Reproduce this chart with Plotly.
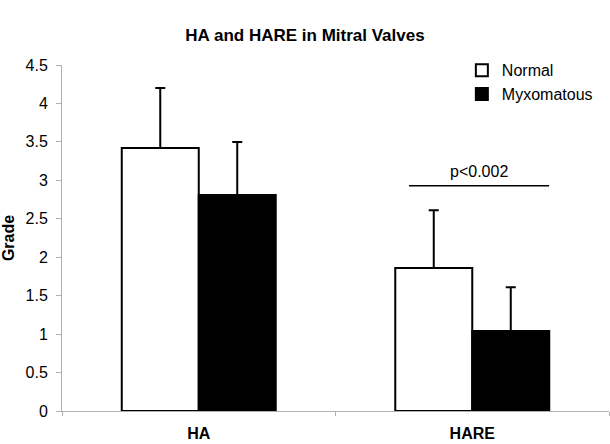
import plotly.graph_objects as go

categories = ["HA", "HARE"]
normal = [3.42, 1.86]
normal_err = [0.78, 0.75]
myxo = [2.81, 1.04]
myxo_err = [0.69, 0.57]
y_ticks = [0, 0.5, 1, 1.5, 2, 2.5, 3, 3.5, 4, 4.5]
sig_level = 2.93
sig_text = "p<0.002"

FONT = "Liberation Sans, Arial, sans-serif"

fig = go.Figure()
fig.add_trace(go.Bar(
    x=categories, y=normal, name="Normal",
    marker=dict(color="white", line=dict(color="black", width=2)),
    error_y=dict(type="data", array=normal_err, arrayminus=[0, 0], symmetric=False,
                 color="black", thickness=2, width=5),
))
fig.add_trace(go.Bar(
    x=categories, y=myxo, name="Myxomatous",
    marker=dict(color="black", line=dict(color="black", width=2)),
    error_y=dict(type="data", array=myxo_err, arrayminus=[0, 0], symmetric=False,
                 color="black", thickness=2, width=5),
))

# significance line over HARE group
fig.add_shape(type="line", xref="x", yref="y",
              x0=0.769, x1=1.281, y0=sig_level, y1=sig_level,
              line=dict(color="black", width=1.5))
fig.add_annotation(x=1.025, y=sig_level, xref="x", yref="y", text=sig_text,
                   showarrow=False, yanchor="bottom", yshift=4,
                   font=dict(family=FONT, size=16, color="black"))

fig.update_layout(
    width=610, height=444,
    margin=dict(l=62, r=1, t=65, b=33),
    paper_bgcolor="white", plot_bgcolor="white",
    barmode="group", bargap=0.437, bargroupgap=0,
    title=dict(text="<b>HA and HARE in Mitral Valves</b>", x=0.5, xanchor="center",
               y=0.92, yanchor="middle",
               font=dict(family=FONT, size=17, color="black")),
    font=dict(family=FONT, size=16, color="black"),
    legend=dict(x=0.731, y=1.034, xanchor="left", yanchor="top",
                bgcolor="rgba(0,0,0,0)", font=dict(family=FONT, size=16),
                tracegroupgap=0),
    showlegend=True,
)
fig.update_xaxes(showline=True, linecolor="#b0b0b0", linewidth=1,
                 ticks="outside", tickson="boundaries", ticklen=4, tickcolor="#b0b0b0",
                 showgrid=False, ticklabelstandoff=8,
                 tickfont=dict(family=FONT, size=16, weight="bold", color="black"))
fig.update_yaxes(range=[0, 4.5], tickvals=y_ticks,
                 ticktext=[("%g" % v) for v in y_ticks],
                 showline=True, linecolor="#b0b0b0", linewidth=1,
                 ticks="outside", tickcolor="#b0b0b0", ticklen=5,
                 showgrid=False, zeroline=False, ticklabelstandoff=5,
                 tickfont=dict(family=FONT, size=16, color="black"),
                 title=dict(text="<b>Grade</b>", standoff=8,
                            font=dict(family=FONT, size=16, color="black")))

fig.write_html("out.html", config={"displayModeBar": False},
               post_script="document.body.style.margin='0';")
